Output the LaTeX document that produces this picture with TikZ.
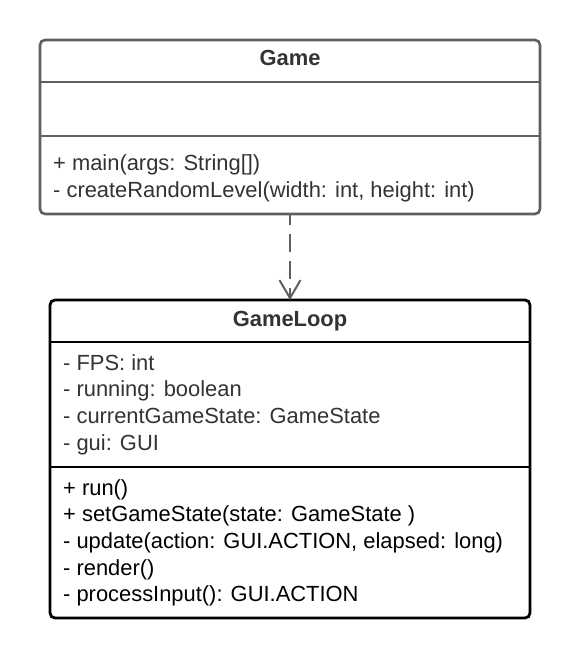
\documentclass[tikz,border=0pt]{standalone}
\usepackage{fontspec}
\setmainfont{Liberation Sans}
\usetikzlibrary{arrows.meta}
\definecolor{grayline}{HTML}{5F5F5F}
\definecolor{txt}{HTML}{333333}
\tikzset{
  classbox/.style={draw, rounded corners=5pt, minimum width=#1, inner sep=0pt, fill=white},
  gamebox/.style={classbox=500pt, draw=grayline, line width=2.6pt, minimum height=174pt},
  loopbox/.style={classbox=480pt, draw=black, line width=2.8pt, minimum height=318pt},
  item/.style={anchor=base west, inner sep=0pt, font=\fontsize{21.9}{26}\selectfont},
  title/.style={anchor=base, inner sep=0pt, font=\fontsize{21.9}{26}\selectfont\bfseries, text=txt},
  depend/.style={draw=grayline, line width=2pt, dash pattern=on 18pt off 9pt, dash phase=8pt,
    -{Straight Barb[length=18pt, width=21pt, line width=2pt]}}
}
\begin{document}
\begin{tikzpicture}[x=1pt, y=-1pt]
\useasboundingbox (0,0) rectangle (580,660);
% Game
\node[gamebox] (game) at (290,127) {};
\draw[grayline, line width=2.6pt] (game.west |- 0,82) -- (game.east |- 0,82);
\draw[grayline, line width=2.6pt] (game.west |- 0,136) -- (game.east |- 0,136);
\node[title] (gtitle) at (290,65.5) {Game};
\node[item, text=txt] (g1) at (53,171) {+ main(args: String[])};
\node[item, text=txt] (g2) at (53,197) {- createRandomLevel(width: int, height: int)};
% GameLoop
\node[loopbox] (loop) at (290,459) {};
\draw[black, line width=2.8pt] (loop.west |- 0,342) -- (loop.east |- 0,342);
\draw[black, line width=2.8pt] (loop.west |- 0,467) -- (loop.east |- 0,467);
\node[title] (ltitle) at (290,326) {GameLoop};
\node[item, text=txt] (a1) at (63,370) {- FPS: int};
\node[item, text=txt] (a2) at (63,396.7) {- running: boolean};
\node[item, text=txt] (a3) at (63,423.3) {- currentGameState: GameState};
\node[item, text=txt] (a4) at (63,450) {- gui: GUI};
\node[item, text=black] (m1) at (63,495) {+ run()};
\node[item, text=black] (m2) at (63,521.7) {+ setGameState(state: GameState )};
\node[item, text=black] (m3) at (63,548.3) {- update(action: GUI.ACTION, elapsed: long)};
\node[item, text=black] (m4) at (63,575) {- render()};
\node[item, text=black] (m5) at (63,601.7) {- processInput(): GUI.ACTION};
% dependency
\draw[depend] (game.south) -- ([yshift=-1.5pt]loop.north);
\end{tikzpicture}
\end{document}
